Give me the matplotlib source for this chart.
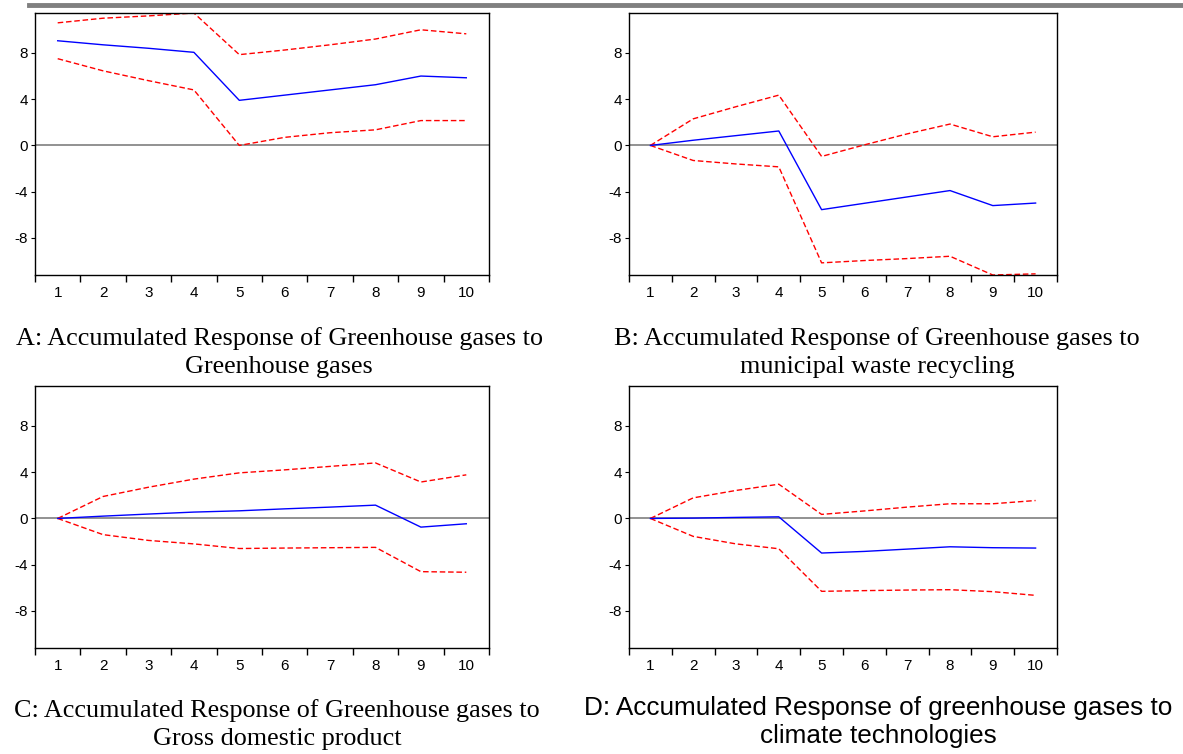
import numpy as np
import matplotlib
matplotlib.use("Agg")
import matplotlib.pyplot as plt
from matplotlib.lines import Line2D

plt.rcParams['axes.unicode_minus'] = False
plt.rcParams['font.family'] = ['Liberation Sans', 'DejaVu Sans']

periods = [1, 2, 3, 4, 5, 6, 7, 8, 9, 10]
y_ticks = [-8, -4, 0, 4, 8]

# A: Greenhouse gases -> Greenhouse gases
a_resp = [9.05, 8.7, 8.4, 8.05, 3.9, 4.35, 4.8, 5.25, 6.0, 5.85]
a_upper = [10.6, 11.0, 11.2, 11.45, 7.85, 8.25, 8.7, 9.2, 10.0, 9.65]
a_lower = [7.5, 6.45, 5.6, 4.8, 0.0, 0.7, 1.1, 1.35, 2.15, 2.15]

# B: Greenhouse gases -> municipal waste recycling
b_resp = [0.0, 0.45, 0.85, 1.25, -5.55, -5.0, -4.45, -3.9, -5.2, -4.98]
b_upper = [0.0, 2.3, 3.35, 4.35, -0.95, 0.05, 1.0, 1.85, 0.75, 1.15]
b_lower = [0.0, -1.3, -1.6, -1.85, -10.15, -9.95, -9.78, -9.58, -11.2, -11.1]

# C: Greenhouse gases -> Gross domestic product
c_resp = [0.0, 0.2, 0.38, 0.55, 0.66, 0.83, 0.98, 1.15, -0.75, -0.46]
c_upper = [0.0, 1.9, 2.7, 3.4, 3.94, 4.2, 4.5, 4.8, 3.15, 3.77]
c_lower = [0.0, -1.4, -1.9, -2.2, -2.6, -2.56, -2.53, -2.5, -4.6, -4.65]

# D: greenhouse gases -> climate technologies
d_resp = [0.0, 0.03, 0.09, 0.14, -2.99, -2.85, -2.65, -2.45, -2.53, -2.56]
d_upper = [0.0, 1.78, 2.42, 2.96, 0.35, 0.65, 0.98, 1.27, 1.27, 1.55]
d_lower = [0.0, -1.55, -2.2, -2.62, -6.3, -6.24, -6.19, -6.16, -6.33, -6.65]

captions = [
    ("A: Accumulated Response of Greenhouse gases to", "Greenhouse gases"),
    ("B: Accumulated Response of Greenhouse gases to", "municipal waste recycling"),
    ("C: Accumulated Response of Greenhouse gases to", "Gross domestic product"),
    ("D: Accumulated Response of greenhouse gases to", "climate technologies"),
]

W, H = 1183, 754
fig = plt.figure(figsize=(W / 100, H / 100), dpi=100)


def px_box(left, top, right, bottom):
    return [left / W, 1 - bottom / H, (right - left) / W, (bottom - top) / H]


# grey rule across the top of the page
fig.add_artist(Line2D([29 / W, 1.0], [1 - 5 / H, 1 - 5 / H], color='#808080', lw=3.5))

boxes = [
    px_box(35, 13, 489, 275),
    px_box(629, 13, 1057, 275),
    px_box(35, 386, 489, 648),
    px_box(629, 386, 1057, 648),
]
series = [
    (a_resp, a_upper, a_lower),
    (b_resp, b_upper, b_lower),
    (c_resp, c_upper, c_lower),
    (d_resp, d_upper, d_lower),
]

for box, (resp, upper, lower) in zip(boxes, series):
    ax = fig.add_axes(box)
    ax.axhline(0, color='#7f7f7f', lw=1.2, zorder=1)
    ax.plot(periods, resp, color='#0000ff', lw=1.0, zorder=3)
    ax.plot(periods, upper, color='#ff0000', lw=1.0, ls=(0, (4, 2)), zorder=2)
    ax.plot(periods, lower, color='#ff0000', lw=1.0, ls=(0, (4, 2)), zorder=2)
    ax.set_xlim(0.5, 10.5)
    ax.set_ylim(-11.2, 11.45)
    ax.set_xticks(periods)
    ax.set_xticks(np.arange(0.5, 11, 1.0), minor=True)
    ax.set_yticks(y_ticks)
    ax.tick_params(axis='x', which='major', length=0, pad=8, labelsize=11)
    ax.tick_params(axis='x', which='minor', length=5, width=1, direction='out')
    ax.tick_params(axis='y', length=3, width=0.8, direction='out', pad=2, labelsize=11)
    for s in ax.spines.values():
        s.set_linewidth(1.0)

# caption centres and baselines, in pixels
cap_x = [279, 877, 277, 878]
cap_y = [(345, 373), (345, 373), (717, 745), (715, 743)]
for i, (l1, l2) in enumerate(captions):
    fam = ['Liberation Sans'] if i == 3 else ['Liberation Serif']
    size = 18.8
    fig.text(cap_x[i] / W, 1 - cap_y[i][0] / H, l1, ha='center', va='baseline',
             family=fam, fontsize=size)
    fig.text(cap_x[i] / W, 1 - cap_y[i][1] / H, l2, ha='center', va='baseline',
             family=fam, fontsize=size)

fig.savefig('out.png', dpi=100)
